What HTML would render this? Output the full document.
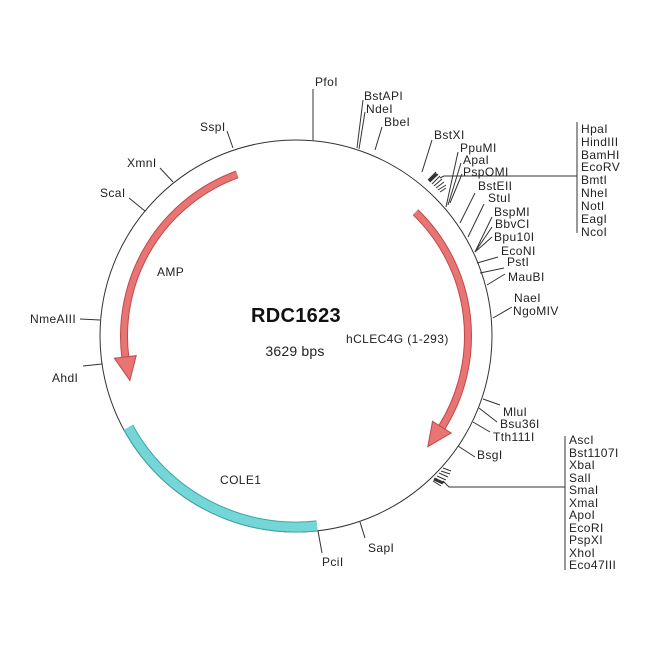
<!DOCTYPE html>
<html><head><meta charset="utf-8"><style>
html,body{margin:0;padding:0;background:#fff;}
svg{display:block;font-family:"Liberation Sans",sans-serif;}
text{font-size:12px;fill:#222;letter-spacing:0.4px;}
</style></head><body>
<svg width="650" height="650" viewBox="0 0 650 650" xmlns="http://www.w3.org/2000/svg">
<rect width="650" height="650" fill="#fff"/>
<circle cx="296" cy="336" r="196" fill="none" stroke="#333" stroke-width="1"/>

<path d="M128.3,427.4 A191,191 0 0 0 317,525.9" fill="none" stroke="#3aa8a8" stroke-width="11"/>
<path d="M128.3,427.4 A191,191 0 0 0 317,525.9" fill="none" stroke="#74d6d6" stroke-width="9"/>

<path d="M237.2,174.4 A172,172 0 0 0 125.3,357" fill="none" stroke="#c04848" stroke-width="8"/>
<path d="M237.2,174.4 A172,172 0 0 0 125.3,357" fill="none" stroke="#e97474" stroke-width="6"/>
<polygon points="114.4,358.3 136.2,355.6 129.9,380.5" fill="#e97474" stroke="#c04848" stroke-width="1"/>

<path d="M415.5,212.3 A172,172 0 0 1 441.9,427.1" fill="none" stroke="#c04848" stroke-width="8"/>
<path d="M415.5,212.3 A172,172 0 0 1 441.9,427.1" fill="none" stroke="#e97474" stroke-width="6"/>
<polygon points="451.2,433 432.5,421.3 427.8,446.6" fill="#e97474" stroke="#c04848" stroke-width="1"/>

<g stroke="#333" stroke-width="1" fill="none">
<line x1="313" y1="140" x2="313" y2="89"/>
<line x1="233" y1="148" x2="227" y2="131"/>
<line x1="173" y1="182" x2="160" y2="168"/>
<line x1="145" y1="211" x2="129" y2="198"/>
<line x1="100" y1="320" x2="80" y2="319"/>
<line x1="102" y1="364" x2="83" y2="366"/>
<line x1="357" y1="148" x2="363" y2="100"/>
<line x1="359" y1="149" x2="365" y2="112"/>
<line x1="375" y1="150" x2="382" y2="127"/>
<line x1="422" y1="172" x2="432" y2="140"/>
<line x1="446" y1="207" x2="458" y2="152"/>
<line x1="448" y1="205" x2="461" y2="163"/>
<line x1="450" y1="203" x2="462" y2="174"/>
<line x1="460" y1="223" x2="475" y2="193"/>
<line x1="468" y1="237" x2="484" y2="204"/>
<line x1="475" y1="252" x2="492" y2="217"/>
<line x1="475" y1="252" x2="492" y2="227"/>
<line x1="475" y1="252" x2="492" y2="237"/>
<line x1="477" y1="263" x2="498" y2="257"/>
<line x1="480" y1="273" x2="504" y2="268"/>
<line x1="487" y1="285" x2="505" y2="274"/>
<line x1="493" y1="318" x2="512" y2="307"/>
<line x1="428" y1="180" x2="436" y2="172"/>
<line x1="430" y1="182" x2="438" y2="174"/>
<line x1="432" y1="184" x2="440" y2="176"/>
<line x1="434" y1="186" x2="442" y2="179"/>
<line x1="436" y1="188" x2="444" y2="182"/>
<line x1="438" y1="190" x2="446" y2="185"/>
<line x1="440" y1="192" x2="446" y2="188"/>
<polyline points="440,178 444,176 577,176"/>
<line x1="577" y1="122" x2="577" y2="233"/>
<line x1="483" y1="399" x2="500" y2="405"/>
<line x1="479" y1="408" x2="497" y2="422"/>
<line x1="473" y1="422" x2="490" y2="432"/>
<line x1="458" y1="446" x2="475" y2="457"/>
<line x1="433" y1="481" x2="441" y2="486"/>
<line x1="435" y1="478" x2="444" y2="483"/>
<line x1="437" y1="476" x2="446" y2="480"/>
<line x1="439" y1="473" x2="448" y2="477"/>
<line x1="441" y1="471" x2="450" y2="474"/>
<line x1="443" y1="468" x2="451" y2="471"/>
<polyline points="443,481 449,487 565,487"/>
<line x1="565" y1="436" x2="565" y2="570"/>
<line x1="360" y1="522" x2="365" y2="538"/>
<line x1="318" y1="531" x2="322" y2="553"/>
</g>
<g stroke="#333" stroke-width="3">
<line x1="429" y1="181" x2="437" y2="174"/>
<line x1="434" y1="479" x2="443" y2="483"/>
</g>

<text x="315" y="86">PfoI</text>
<text x="200" y="131">SspI</text>
<text x="127" y="167">XmnI</text>
<text x="100" y="197">ScaI</text>
<text x="30" y="323">NmeAIII</text>
<text x="52" y="382">AhdI</text>
<text x="364" y="100">BstAPI</text>
<text x="366" y="113">NdeI</text>
<text x="384" y="126">BbeI</text>
<text x="434" y="139">BstXI</text>
<text x="460" y="152">PpuMI</text>
<text x="463" y="164">ApaI</text>
<text x="463" y="176">PspOMI</text>
<text x="478" y="190">BstEII</text>
<text x="488" y="202">StuI</text>
<text x="494" y="216">BspMI</text>
<text x="495" y="228">BbvCI</text>
<text x="494" y="241">Bpu10I</text>
<text x="501" y="255">EcoNI</text>
<text x="507" y="266">PstI</text>
<text x="508" y="281">MauBI</text>
<text x="514" y="302">NaeI</text>
<text x="513" y="315">NgoMIV</text>
<text x="581" y="133">HpaI</text>
<text x="581" y="146">HindIII</text>
<text x="581" y="159">BamHI</text>
<text x="581" y="171">EcoRV</text>
<text x="581" y="184">BmtI</text>
<text x="581" y="197">NheI</text>
<text x="581" y="210">NotI</text>
<text x="581" y="223">EagI</text>
<text x="581" y="236">NcoI</text>
<text x="503" y="416">MluI</text>
<text x="500" y="428">Bsu36I</text>
<text x="493" y="441">Tth111I</text>
<text x="477" y="459">BsgI</text>
<text x="569" y="444">AscI</text>
<text x="569" y="457">Bst1107I</text>
<text x="569" y="469">XbaI</text>
<text x="569" y="482">SalI</text>
<text x="569" y="494">SmaI</text>
<text x="569" y="507">XmaI</text>
<text x="569" y="519">ApoI</text>
<text x="569" y="532">EcoRI</text>
<text x="569" y="544">PspXI</text>
<text x="569" y="557">XhoI</text>
<text x="569" y="569">Eco47III</text>
<text x="368" y="552">SapI</text>
<text x="322" y="566">PciI</text>

<text x="157" y="276">AMP</text>
<text x="220" y="484">COLE1</text>
<text x="346" y="343">hCLEC4G (1-293)</text>
<text x="296" y="322" text-anchor="middle" style="font-size:20px;font-weight:bold;fill:#111;letter-spacing:0.3px">RDC1623</text>
<text x="295" y="356" text-anchor="middle" style="font-size:14px;letter-spacing:0.2px">3629 bps</text>
</svg>
</body></html>
